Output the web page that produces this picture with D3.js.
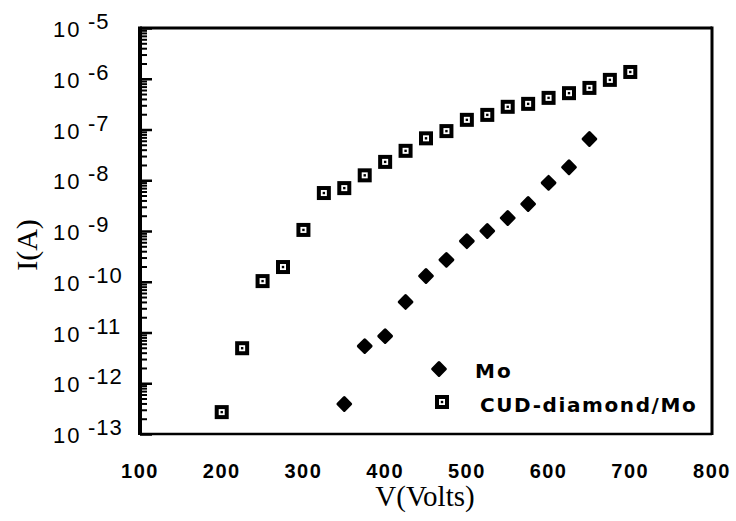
<!DOCTYPE html>
<html>
<head>
<meta charset="utf-8">
<script src="https://cdn.jsdelivr.net/npm/d3@7"></script>
<style>
  html, body { margin: 0; padding: 0; background: #fff; }
  svg { display: block; }
</style>
</head>
<body>
<svg id="chart" width="736" height="521"></svg>
<script>
// ---- data ----
const moVolts = [350, 375, 400, 425, 450, 475, 500, 525, 550, 575, 600, 625, 650];
const moCurrent = [3.9e-13, 5.4e-12, 8.5e-12, 4.0e-11, 1.3e-10, 2.7e-10, 6.3e-10, 1.0e-9, 1.8e-9, 3.4e-9, 8.9e-9, 1.8e-8, 6.5e-8];

const cvdVolts = [200, 225, 250, 275, 300, 325, 350, 375, 400, 425, 450, 475, 500, 525, 550, 575, 600, 625, 650, 675, 700];
const cvdCurrent = [2.7e-13, 4.9e-12, 1.03e-10, 1.95e-10, 1.05e-9, 5.6e-9, 7.0e-9, 1.25e-8, 2.3e-8, 3.8e-8, 6.7e-8, 9.3e-8, 1.55e-7, 1.94e-7, 2.8e-7, 3.2e-7, 4.2e-7, 5.2e-7, 6.6e-7, 9.5e-7, 1.36e-6];

const xTickLabels = [100, 200, 300, 400, 500, 600, 700, 800];
const yExponents = [-5, -6, -7, -8, -9, -10, -11, -12, -13];
const legendLabels = ["Mo", "CUD-diamond/Mo"];
const xTitle = "V(Volts)";
const yTitle = "I(A)";

// ---- layout ----
const L = 140, R = 712, T = 28, B = 434;
const svg = d3.select("#chart");

const x = d3.scaleLinear().domain([100, 800]).range([L, R]);
const y = d3.scaleLog().domain([1e-13, 1e-5]).range([B, T]);

// frame
svg.append("line").attr("x1", L).attr("x2", R).attr("y1", T).attr("y2", T)
  .attr("stroke", "#000").attr("stroke-width", 3);
svg.append("line").attr("x1", R).attr("x2", R).attr("y1", T - 1.5).attr("y2", B + 1)
  .attr("stroke", "#000").attr("stroke-width", 3);
svg.append("line").attr("x1", L).attr("x2", R).attr("y1", B).attr("y2", B)
  .attr("stroke", "#000").attr("stroke-width", 2.5);

// y axis: minor and major ticks pointing inward
const minorVals = [];
for (let e = -13; e < -5; e++) {
  for (let m = 2; m <= 9; m++) minorVals.push(m * Math.pow(10, e));
}
const majorVals = yExponents.map(e => Math.pow(10, e));

const gMinor = svg.append("g").attr("transform", `translate(${L},0)`)
  .call(d3.axisRight(y).tickValues(minorVals).tickSize(7).tickFormat(""));
gMinor.select(".domain").remove();
gMinor.selectAll(".tick line").attr("stroke", "#000").attr("stroke-width", 2);

const gMajor = svg.append("g").attr("transform", `translate(${L},0)`)
  .call(d3.axisRight(y).tickValues(majorVals).tickSize(12).tickFormat(""));
gMajor.select(".domain").remove();
gMajor.selectAll(".tick line").attr("stroke", "#000").attr("stroke-width", 2.5);

svg.append("line").attr("x1", L).attr("x2", L).attr("y1", T - 1.5).attr("y2", B + 1)
  .attr("stroke", "#000").attr("stroke-width", 4);

// y tick labels 10^e
const yl = svg.append("g").attr("font-family", "'Liberation Sans', Arial, sans-serif")
  .attr("font-size", 22).attr("fill", "#000");
yExponents.forEach(e => {
  const yy = y(Math.pow(10, e));
  yl.append("text").attr("x", 53).attr("y", yy + 9).attr("letter-spacing", 2).text("10");
  yl.append("text").attr("x", 88).attr("y", yy + 1).attr("letter-spacing", 1).text("-" + Math.abs(e));
});

// x tick labels
const xl = svg.append("g").attr("font-family", "'Liberation Sans', Arial, sans-serif")
  .attr("font-size", 20).attr("font-weight", "bold").attr("fill", "#000")
  .attr("text-anchor", "middle");
xTickLabels.forEach(v => {
  xl.append("text").attr("x", x(v)).attr("y", 478).attr("letter-spacing", 1.5).text(v);
});

// axis titles
svg.append("text").attr("x", 425).attr("y", 506).attr("text-anchor", "middle")
  .attr("font-family", "'Liberation Serif', 'Times New Roman', serif").attr("font-size", 29)
  .text(xTitle);
svg.append("text").attr("transform", "translate(37,245) rotate(-90)").attr("text-anchor", "middle")
  .attr("font-family", "'Liberation Serif', 'Times New Roman', serif").attr("font-size", 30)
  .text(yTitle);

// markers
function diamond(g, cx, cy) {
  g.append("rect").attr("x", -4.5).attr("y", -4.5).attr("width", 9).attr("height", 9)
    .attr("transform", `translate(${cx},${cy}) rotate(45)`)
    .attr("fill", "#000").attr("stroke", "#000").attr("stroke-width", 3)
    .attr("stroke-linejoin", "round");
}
function square(g, cx, cy) {
  g.append("rect").attr("x", cx - 7).attr("y", cy - 7).attr("width", 14).attr("height", 14)
    .attr("fill", "#000");
  g.append("rect").attr("x", cx - 3).attr("y", cy - 3).attr("width", 6).attr("height", 6)
    .attr("fill", "#fff");
  g.append("rect").attr("x", cx - 1.2).attr("y", cy - 1.2).attr("width", 2.4).attr("height", 2.4)
    .attr("fill", "#000");
}

const gMo = svg.append("g");
moVolts.forEach((v, i) => diamond(gMo, x(v), y(moCurrent[i])));
const gCvd = svg.append("g");
cvdVolts.forEach((v, i) => square(gCvd, x(v), y(cvdCurrent[i])));

// legend
const lg = svg.append("g");
diamond(lg, 439, 369);
square(lg, 442, 402);
lg.append("text").attr("x", 475).attr("y", 378).attr("font-family", "'DejaVu Sans', sans-serif")
  .attr("font-size", 20).attr("font-weight", "bold").attr("letter-spacing", 2).text(legendLabels[0]);
lg.append("text").attr("x", 480).attr("y", 412).attr("font-family", "'DejaVu Sans', sans-serif")
  .attr("font-size", 20).attr("font-weight", "bold").attr("letter-spacing", 1.6).text(legendLabels[1]);
</script>
</body>
</html>
